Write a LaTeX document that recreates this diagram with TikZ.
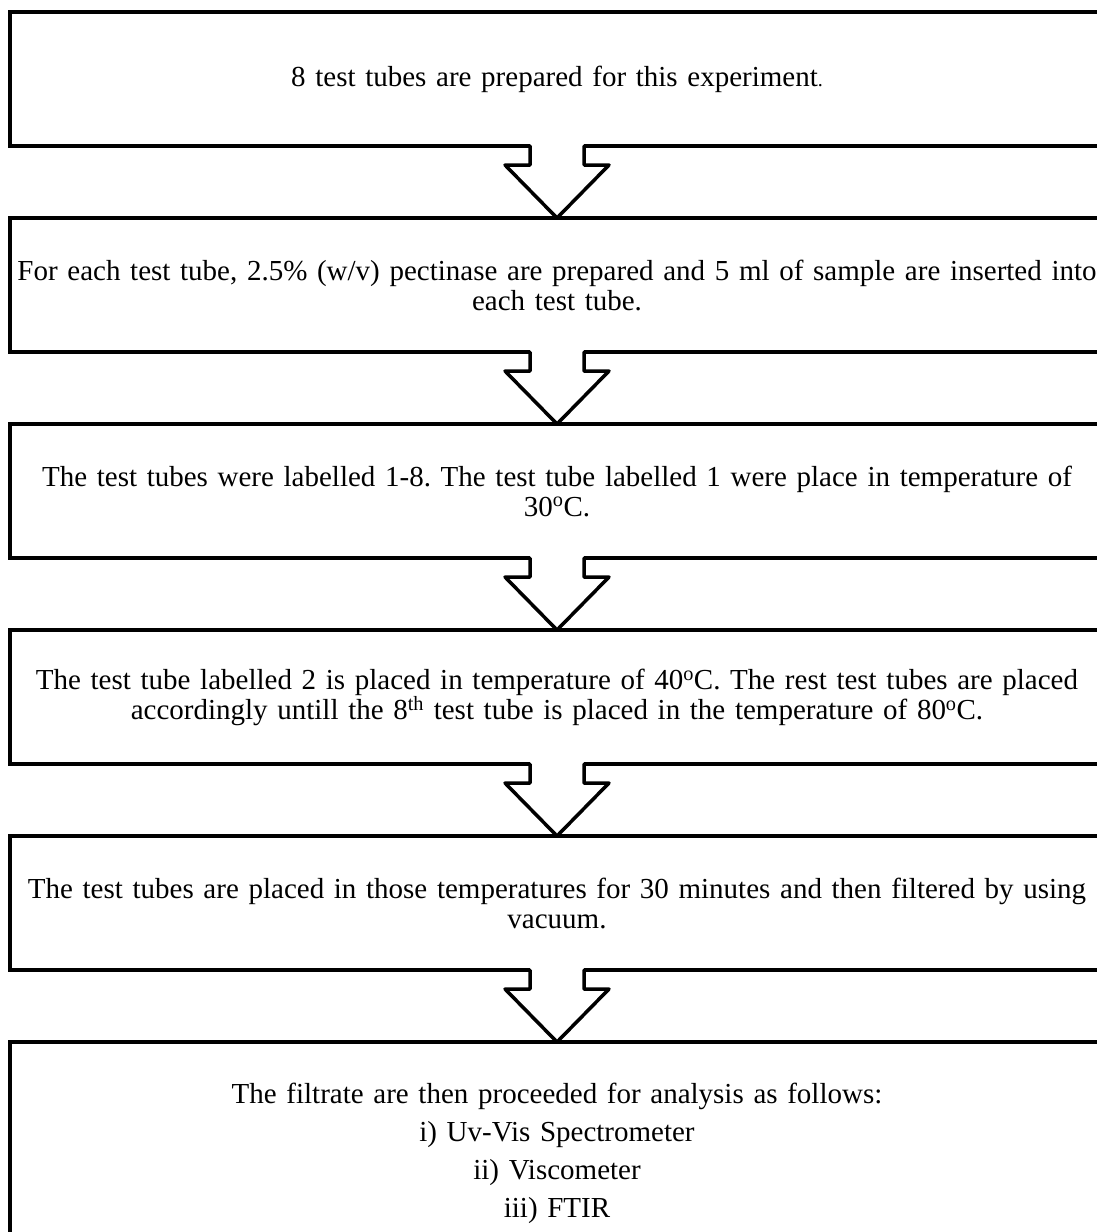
\documentclass[tikz,border=0pt]{standalone}
\usepackage{fontspec}
\setmainfont{Liberation Serif}[WordSpace=0.9]
\usetikzlibrary{positioning,calc}
\frenchspacing

\tikzstyle{stepbox} = [draw, line width=4pt, outer sep=0pt, inner sep=0pt, minimum width=1094pt, minimum height=134pt, text width=1080pt, align=center, font=\fontsize{29}{30}\selectfont]
\tikzstyle{arrowline} = [draw, line width=3.5pt, line join=round, line cap=round]

\begin{document}
\begin{tikzpicture}[node distance=72pt]
\useasboundingbox (0,0) rectangle (1097pt,-1232pt);
\clip (0,0) rectangle (1097pt,-1232pt);

\node[stepbox, anchor=north] (s1) at (557pt,-12pt) {8 test tubes are prepared for this experiment{\fontsize{20}{20}\selectfont .}};
\node[stepbox, below=of s1] (s2) {For each test tube, 2.5\% (w/v) pectinase are prepared and 5 ml of sample are inserted into\\ each test tube.};
\node[stepbox, below=of s2] (s3) {The test tubes were labelled 1-8. The test tube labelled 1 were place in temperature of\\ 30\textsuperscript{o}C.};
\node[stepbox, below=of s3] (s4) {The test tube labelled 2 is placed in temperature of 40\textsuperscript{o}C. The rest test tubes are placed\\ accordingly untill the 8\textsuperscript{th} test tube is placed in the temperature of 80\textsuperscript{o}C.};
\node[stepbox, below=of s4] (s5) {The test tubes are placed in those temperatures for 30 minutes and then filtered by using\\ vacuum.};
\node[stepbox, below=of s5, minimum height=222pt] (s6) {The filtrate are then proceeded for analysis as follows:\\[8pt] i) Uv-Vis Spectrometer\\[8pt] ii) Viscometer\\[8pt] iii) FTIR};

% block arrows between the steps
\foreach \a/\b in {s1/s2, s2/s3, s3/s4, s4/s5, s5/s6} {
    \fill[white] ($(\a.south)+(-27pt,3pt)$) rectangle ($(\a.south)+(27pt,-19pt)$);
    \draw[arrowline] ($(\a.south)+(-27pt,0)$) -- ++(0,-19pt) -- ++(-25pt,0) -- (\b.north)
        -- ($(\a.south)+(52pt,-19pt)$) -- ++(-25pt,0) -- ++(0,19pt);
}
\end{tikzpicture}
\end{document}
